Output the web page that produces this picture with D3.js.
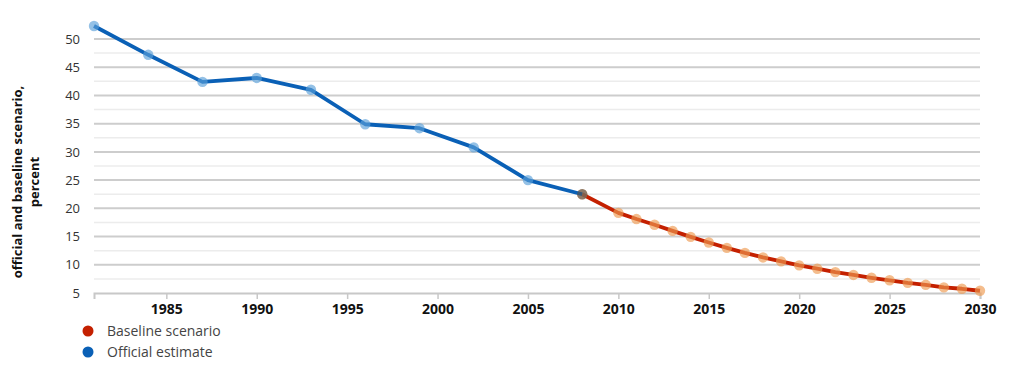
<!DOCTYPE html>
<html><head><meta charset="utf-8">
<script src="https://cdn.jsdelivr.net/npm/d3@7"></script>
<style>
html,body{margin:0;padding:0;background:#fff;}
svg{display:block;font-family:"Open Sans",sans-serif;}
</style></head>
<body><svg id="c" width="1024" height="384"></svg>
<script>
const officialYears = [1981,1984,1987,1990,1993,1996,1999,2002,2005,2008];
const officialValues = [52.3,47.2,42.4,43.1,41.0,34.9,34.2,30.8,25.0,22.5];
const baselineYears = [2008,2010,2011,2012,2013,2014,2015,2016,2017,2018,2019,2020,2021,2022,2023,2024,2025,2026,2027,2028,2029,2030];
const baselineValues = [22.5,19.2,18.1,17.1,16.0,14.95,13.95,13.0,12.1,11.3,10.6,9.9,9.3,8.7,8.2,7.7,7.25,6.8,6.45,6.0,5.75,5.4];
const xTickValues = [1985,1990,1995,2000,2005,2010,2015,2020,2025,2030];
const yTickValues = [5,10,15,20,25,30,35,40,45,50];
const seriesNames = ["Baseline scenario","Official estimate"];

const svg = d3.select("#c");
const x = d3.scaleLinear().domain([1981,2030]).range([94,980]);
const y = d3.scaleLinear().domain([5,50]).range([293,39]);

// minor gridlines
const minor = d3.range(7.5,50,5);
svg.append("g").selectAll("line").data(minor).join("line")
  .attr("x1",x(1981)).attr("x2",x(2030)).attr("y1",d=>y(d)).attr("y2",d=>y(d))
  .attr("stroke","#ececec").attr("stroke-width",1.5);
// major gridlines
svg.append("g").selectAll("line").data(yTickValues.filter(v=>v>5)).join("line")
  .attr("x1",x(1981)).attr("x2",x(2030)).attr("y1",d=>y(d)).attr("y2",d=>y(d))
  .attr("stroke","#cdcdcd").attr("stroke-width",2);

// y axis labels
const ya = svg.append("g").attr("transform",`translate(${x(1981)},0)`)
  .call(d3.axisLeft(y).tickValues(yTickValues).tickSize(0).tickPadding(14));
ya.select(".domain").remove();
ya.selectAll("text").attr("font-size",13).attr("fill","#333").attr("font-family","Open Sans");

// x axis
const xa = svg.append("g").attr("transform",`translate(0,${y(5)})`)
  .call(d3.axisBottom(x).tickValues(xTickValues).tickFormat(d3.format("d")).tickSize(6).tickSizeOuter(6).tickPadding(5));
xa.select(".domain").attr("stroke","#c8c8c8").attr("stroke-width",2);
xa.selectAll(".tick line").attr("stroke","#c8c8c8").attr("stroke-width",1.5);
xa.selectAll("text").attr("font-size",14).attr("font-weight","bold").attr("fill","#111").attr("font-family","Open Sans");

// y title
const yt = svg.append("text").attr("transform","translate(22,182) rotate(-90)")
  .attr("text-anchor","middle").attr("font-size",13).attr("font-weight","bold").attr("fill","#111");
yt.append("tspan").attr("x",0).attr("dy",0).text("official and baseline scenario,");
yt.append("tspan").attr("x",0).attr("dy",17).text("percent");

const line = d3.line().x(d=>x(d[0])).y(d=>y(d[1]));
const off = officialYears.map((yr,i)=>[yr,officialValues[i]]);
const base = baselineYears.map((yr,i)=>[yr,baselineValues[i]]);

// baseline
svg.append("path").datum(base).attr("d",line).attr("fill","none")
  .attr("stroke","#c42000").attr("stroke-width",3.8).attr("stroke-linejoin","round");
svg.append("g").selectAll("circle").data(base).join("circle")
  .attr("cx",d=>x(d[0])).attr("cy",d=>y(d[1])).attr("r",5.2)
  .attr("fill","#ee9a50").attr("fill-opacity",0.65);
// official
svg.append("path").datum(off).attr("d",line).attr("fill","none")
  .attr("stroke","#0a60b6").attr("stroke-width",3.8).attr("stroke-linejoin","round");
svg.append("g").selectAll("circle").data(off).join("circle")
  .attr("cx",d=>x(d[0])).attr("cy",d=>y(d[1])).attr("r",5.2)
  .attr("fill",(d,i)=> i===off.length-1 ? "#555" : "#5b9fd8").attr("fill-opacity",0.65);

// legend
const leg = svg.append("g");
const legColors = ["#c42000","#0a60b6"];
seriesNames.forEach((n,i)=>{
  leg.append("circle").attr("cx",88).attr("cy",331+i*21).attr("r",5.5).attr("fill",legColors[i]);
  leg.append("text").attr("x",107).attr("y",331+i*21).attr("dy","0.35em")
    .attr("font-size",14).attr("fill","#444").text(n);
});
</script></body></html>
